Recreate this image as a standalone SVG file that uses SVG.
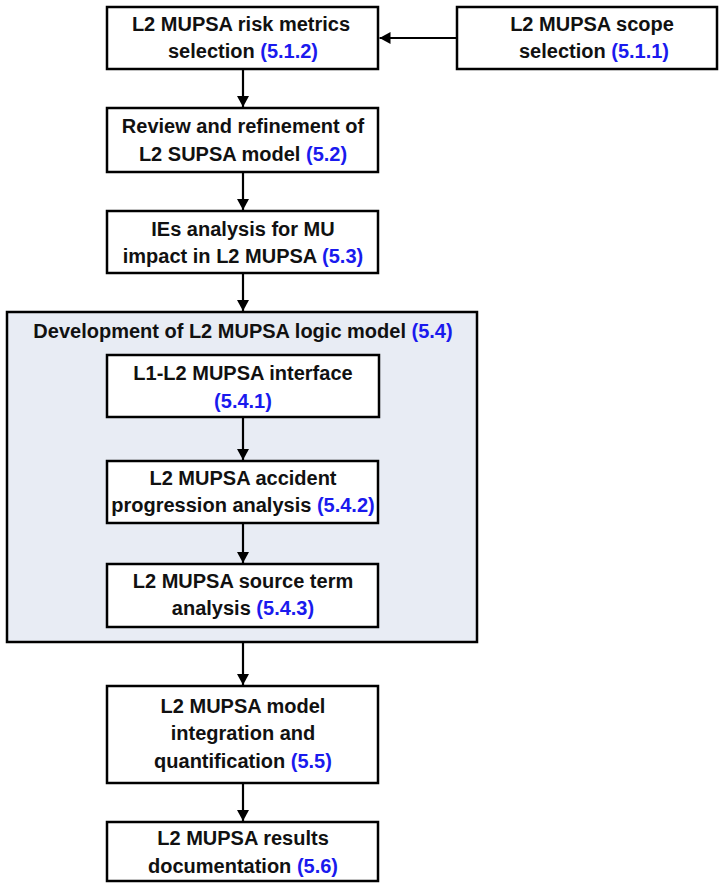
<svg xmlns="http://www.w3.org/2000/svg" width="719" height="883" viewBox="0 0 719 883">
<style>
.box{fill:#fff;stroke:#000;stroke-width:2.5}
.cont{fill:#e8ecf4;stroke:#000;stroke-width:2.5}
.t{font-family:"Liberation Sans",Arial,sans-serif;font-weight:bold;font-size:20px;fill:#111;text-anchor:middle}
.n{fill:#1a1aee}
.c{stroke:#000;stroke-width:2.2;fill:none;marker-end:url(#ah)}
</style>
<defs>
<marker id="ah" viewBox="0 0 11 12" refX="11" refY="6" markerWidth="11" markerHeight="12" markerUnits="userSpaceOnUse" orient="auto">
<path d="M0,0 L11,6 L0,12 Z" fill="#000"/>
</marker>
</defs>
<rect width="719" height="883" fill="#fff"/>
<g id="n512">
<rect class="box" x="107" y="7" width="271" height="62"/>
<text class="t" x="241" y="31">L2 MUPSA risk metrics</text>
<text class="t" x="243" y="58">selection <tspan class="n">(5.1.2)</tspan></text>
</g>
<g id="n511">
<rect class="box" x="457" y="7" width="260" height="62"/>
<text class="t" x="592" y="31">L2 MUPSA scope</text>
<text class="t" x="594" y="58">selection  <tspan class="n">(5.1.1)</tspan></text>
</g>
<g id="n52">
<rect class="box" x="107" y="108" width="271" height="64"/>
<text class="t" x="243" y="133">Review and refinement of</text>
<text class="t" x="243" y="161">L2 SUPSA model <tspan class="n">(5.2)</tspan></text>
</g>
<g id="n53">
<rect class="box" x="107" y="211" width="271" height="62"/>
<text class="t" x="243" y="236">IEs analysis for MU</text>
<text class="t" x="243" y="263">impact in L2 MUPSA <tspan class="n">(5.3)</tspan></text>
</g>
<g id="n54">
<rect class="cont" x="7" y="312" width="470" height="330"/>
<text class="t" x="243" y="338">Development of L2 MUPSA logic model <tspan class="n">(5.4)</tspan></text>
</g>
<g id="n541">
<rect class="box" x="107" y="355" width="272" height="62"/>
<text class="t" x="243" y="380">L1-L2 MUPSA interface</text>
<text class="t n" x="243" y="408">(5.4.1)</text>
</g>
<g id="n542">
<rect class="box" x="107" y="461" width="271" height="62"/>
<text class="t" x="243" y="485">L2 MUPSA accident</text>
<text class="t" x="243" y="512">progression analysis <tspan class="n">(5.4.2)</tspan></text>
</g>
<g id="n543">
<rect class="box" x="107" y="564" width="271" height="63"/>
<text class="t" x="243" y="588">L2 MUPSA source term</text>
<text class="t" x="243" y="615">analysis  <tspan class="n">(5.4.3)</tspan></text>
</g>
<g id="n55">
<rect class="box" x="107" y="686" width="271" height="97"/>
<text class="t" x="243" y="713">L2 MUPSA model</text>
<text class="t" x="243" y="740">integration and</text>
<text class="t" x="243" y="768">quantification <tspan class="n">(5.5)</tspan></text>
</g>
<g id="n56">
<rect class="box" x="107" y="822" width="271" height="59"/>
<text class="t" x="243" y="845">L2 MUPSA results</text>
<text class="t" x="243" y="873">documentation  <tspan class="n">(5.6)</tspan></text>
</g>
<g id="connectors">
<line class="c" x1="457" y1="38" x2="379.5" y2="38"/>
<line class="c" x1="243" y1="69" x2="243" y2="107"/>
<line class="c" x1="243" y1="172" x2="243" y2="210"/>
<line class="c" x1="243" y1="273" x2="243" y2="311"/>
<line class="c" x1="243" y1="417" x2="243" y2="460"/>
<line class="c" x1="243" y1="523" x2="243" y2="563"/>
<line class="c" x1="243" y1="642" x2="243" y2="685"/>
<line class="c" x1="243" y1="783" x2="243" y2="821"/>
</g>
</svg>
